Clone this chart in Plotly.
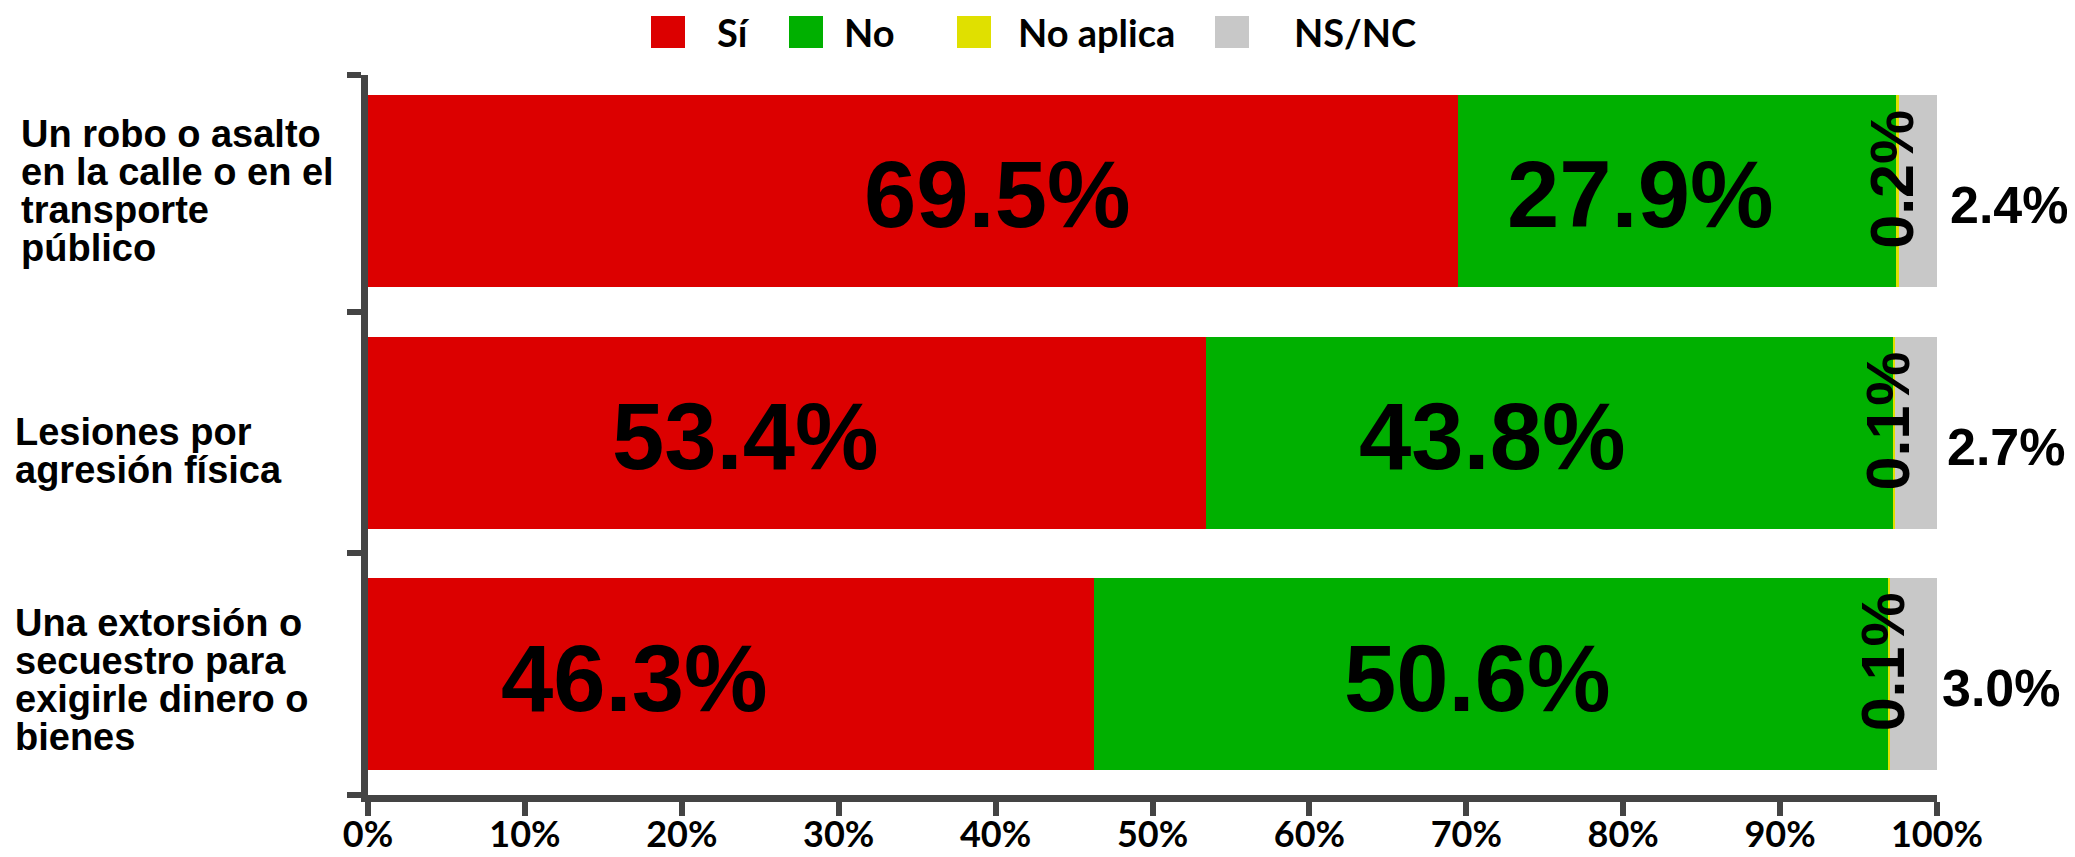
import plotly.graph_objects as go

# ---------------- data ----------------
categories = [
    "Un robo o asalto en la calle o en el transporte público",
    "Lesiones por agresión física",
    "Una extorsión o secuestro para exigirle dinero o bienes",
]
category_lines = [
    ["Un robo o asalto", "en la calle o en el", "transporte", "público"],
    ["Lesiones por", "agresión física"],
    ["Una extorsión o", "secuestro para", "exigirle dinero o", "bienes"],
]
series_names = ["Sí", "No", "No aplica", "NS/NC"]
si_vals = [69.5, 53.4, 46.3]
no_vals = [27.9, 43.8, 50.6]
noaplica_vals = [0.2, 0.1, 0.1]
nsnc_vals = [2.4, 2.7, 3.0]
x_tick_vals = [0, 10, 20, 30, 40, 50, 60, 70, 80, 90, 100]
x_tick_text = ["0%", "10%", "20%", "30%", "40%", "50%", "60%", "70%", "80%", "90%", "100%"]

# ---------------- style ----------------
colors = ["#DC0000", "#00B000", "#E0E000", "#C8C8C8"]
AX = "#444444"
W, H = 2075, 857
OFF = 8  # default page body margin
PL, PR, PT, PB = 368, 1937, 75, 795  # plot area in screen pixels
BIG = "Liberation Sans"
CAL = "Lato"


def px_x(px):
    return (px - PL) / (PR - PL)


def px_y(py):
    return (PB - py) / (PB - PT)


series = [si_vals, no_vals, noaplica_vals, nsnc_vals]

fig = go.Figure()
for name, vals, col in zip(series_names, series, colors):
    fig.add_trace(go.Bar(
        y=categories, x=vals, name=name, orientation="h",
        marker=dict(color=col, line=dict(width=0)),
        showlegend=False, hoverinfo="x+name",
    ))

annotations = []

# category labels (one annotation per line for tight line spacing)
pitch = 38
label_left = [19, 13, 13]
label_extra = [0, -18, -6]
for cat, lines, extra, lx in zip(categories, category_lines, label_extra, label_left):
    n = len(lines)
    for i, ln in enumerate(lines):
        annotations.append(dict(
            x=px_x(lx), xref="paper", y=cat, yref="y",
            text=ln, showarrow=False, xanchor="left", yanchor="middle",
            yshift=(n - 1) / 2 * pitch - i * pitch + extra,
            font=dict(family=BIG, size=38, color="black", weight="bold"),
        ))

# big inside labels
si_shift = [84, -41, -97]
no_shift = [-37, -57, -14]
nsnc_shift = [11, 8, 3]
for k, cat in enumerate(categories):
    annotations.append(dict(
        x=si_vals[k] / 2, y=cat, xref="x", yref="y", text=f"{si_vals[k]:.1f}%",
        showarrow=False, xshift=si_shift[k], yshift=-4,
        font=dict(family=BIG, size=94, color="black", weight="bold"),
    ))
    annotations.append(dict(
        x=si_vals[k] + no_vals[k] / 2, y=cat, xref="x", yref="y", text=f"{no_vals[k]:.1f}%",
        showarrow=False, xshift=no_shift[k], yshift=-4,
        font=dict(family=BIG, size=94, color="black", weight="bold"),
    ))
    # rotated small "No aplica" label
    annotations.append(dict(
        x=si_vals[k] + no_vals[k] + noaplica_vals[k] / 2, y=cat, xref="x", yref="y",
        text=f"{noaplica_vals[k]:.1f}%", textangle=-90,
        showarrow=False, xshift=-6, yshift=12,
        font=dict(family=BIG, size=61, color="black", weight="bold"),
    ))
    # NS/NC label outside the bar end
    annotations.append(dict(
        x=1, y=cat, xref="paper", yref="y",
        text=f"{nsnc_vals[k]:.1f}%", xanchor="left",
        showarrow=False, xshift=nsnc_shift[k], yshift=-14,
        font=dict(family=BIG, size=52, color="black", weight="bold"),
    ))

# manual legend (large square keys)
shapes = []
leg_sq = [(651, 685), (789, 823), (957, 991), (1215, 1249)]
leg_tx = [715, 842, 1016, 1292]
for name, col, (x0, x1), tx in zip(series_names, colors, leg_sq, leg_tx):
    shapes.append(dict(
        type="rect", xref="paper", yref="paper",
        x0=px_x(x0), x1=px_x(x1), y0=px_y(48), y1=px_y(16),
        fillcolor=col, line=dict(width=0),
    ))
    annotations.append(dict(
        x=px_x(tx), y=px_y(32), xref="paper", yref="paper", text=name,
        showarrow=False, xanchor="left", yanchor="middle",
        font=dict(family=CAL, size=38, color="black", weight="bold"),
    ))

# y-axis: ticks between categories, top tick at the axis end
y_top = -0.48
y_tick_pos = [y_top] + [i + 0.5 for i in range(len(categories))]

fig.update_layout(
    barmode="stack",
    bargap=0.205,
    width=W - OFF, height=H - OFF,
    margin=dict(l=PL - OFF, r=W - PR, t=PT - OFF, b=H - PB, pad=0, autoexpand=False),
    paper_bgcolor="white", plot_bgcolor="white",
    showlegend=False,
    annotations=annotations,
    shapes=shapes,
    xaxis=dict(
        range=[0, 100], tickmode="array", tickvals=x_tick_vals, ticktext=x_tick_text,
        ticks="outside", ticklen=14, tickwidth=6, tickcolor=AX,
        showline=True, linewidth=7, linecolor=AX,
        showgrid=False, zeroline=False, automargin=False,
        ticklabelstandoff=-12,
        tickfont=dict(family=CAL, size=36, color="black", weight="bold"),
    ),
    yaxis=dict(
        type="category", categoryorder="array", categoryarray=categories,
        range=[len(categories) - 0.5, y_top],
        tickmode="array", tickvals=y_tick_pos, ticktext=[""] * len(y_tick_pos),
        ticks="outside", ticklen=14, tickwidth=6, tickcolor=AX,
        showline=True, linewidth=7, linecolor=AX,
        showgrid=False, zeroline=False, showticklabels=False, automargin=False,
    ),
)

fig.write_html("out.html")
